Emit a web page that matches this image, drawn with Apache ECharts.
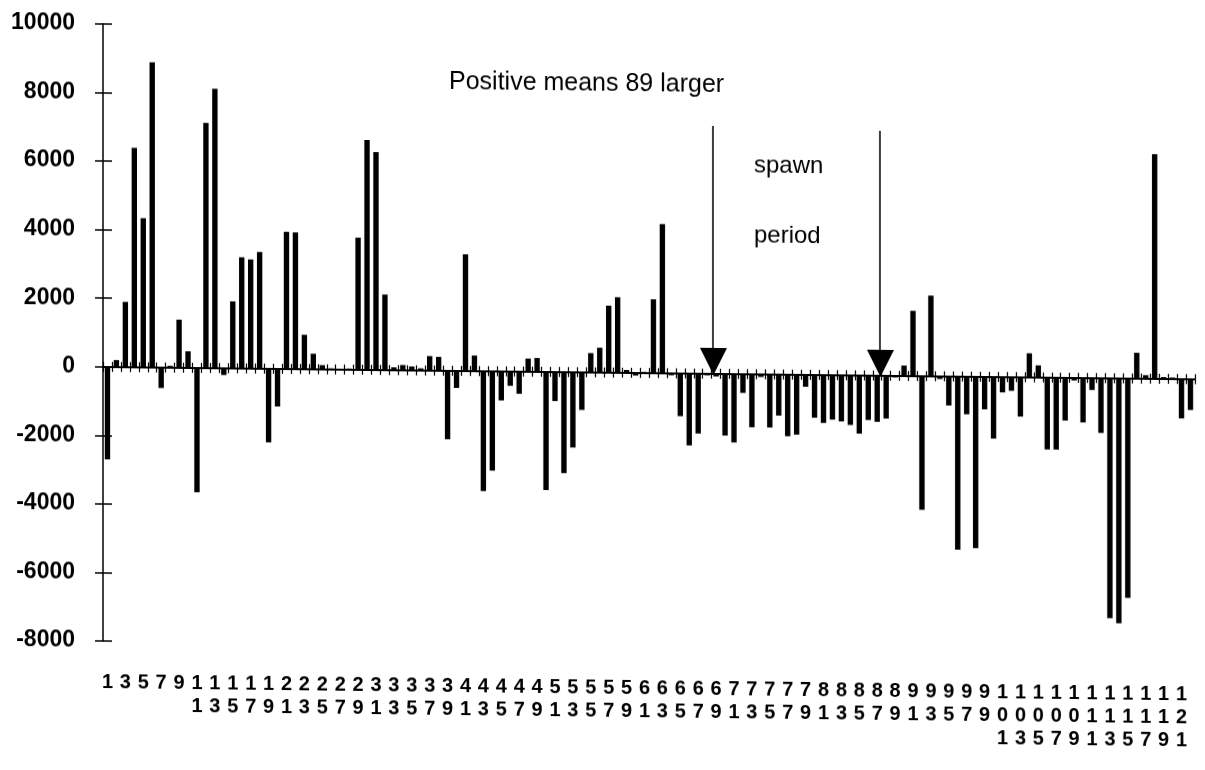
<!DOCTYPE html>
<html>
<head>
<meta charset="utf-8">
<script src="https://cdn.jsdelivr.net/npm/echarts@6/dist/echarts.min.js"></script>
<style>
  html, body { margin: 0; padding: 0; background: #fff; overflow: hidden; }
  /* the scanned original runs slightly downhill to the right */
  #chart { width: 1205px; height: 770px; transform: skewY(0.65deg); transform-origin: 103px 368px; }
</style>
</head>
<body>
<div id="chart"></div>
<script>
// sample number along the x axis (1 .. 122)
var samples = [
  1, 2, 3, 4, 5, 6, 7, 8, 9, 10, 11, 12, 13, 14, 15, 16, 17, 18, 19, 20,
  21, 22, 23, 24, 25, 26, 27, 28, 29, 30, 31, 32, 33, 34, 35, 36, 37, 38, 39, 40,
  41, 42, 43, 44, 45, 46, 47, 48, 49, 50, 51, 52, 53, 54, 55, 56, 57, 58, 59, 60,
  61, 62, 63, 64, 65, 66, 67, 68, 69, 70, 71, 72, 73, 74, 75, 76, 77, 78, 79, 80,
  81, 82, 83, 84, 85, 86, 87, 88, 89, 90, 91, 92, 93, 94, 95, 96, 97, 98, 99, 100,
  101, 102, 103, 104, 105, 106, 107, 108, 109, 110, 111, 112, 113, 114, 115, 116, 117, 118, 119, 120,
  121, 122
];

// difference (89 minus other year)
var diff1to30 = [
  -2700, 200, 1900, 6400, 4350, 8900, -600, 50, 1400, 480,
  -3630, 7150, 8150, -200, 1950, 3240, 3180, 3400, -2150, -1100,
  4000, 3980, 1000, 450, 120, 30, 20, 30, 3850, 6700
];
var diff31to60 = [
  6350, 2200, 80, 150, 110, 60, 420, 400, -2000, -500,
  3400, 450, -3500, -2900, -850, -420, -650, 380, 400, -3450,
  -850, -2950, -2200, -1100, 560, 720, 1950, 2200, 80, -80
];
var diff61to90 = [
  30, 2150, 4350, -60, -1250, -2100, -1750, -50, -80, -1800,
  -2000, -550, -1550, -80, -1550, -1200, -1800, -1750, -350, -1250,
  -1400, -1300, -1350, -1450, -1700, -1300, -1350, -1250, -50, 300
];
var diff91to122 = [
  1900, -3900, 2350, -80, -850, -5050, -1100, -5000, -950, -1800,
  -450, -400, -1150, 700, 350, -2100, -2100, -1250, -80, -1300,
  -350, -1600, -7000, -7150, -6400, 750, 100, 6550, 50, 40,
  -1150, -900
];
var diffs = diff1to30.concat(diff31to60, diff61to90, diff91to122);

var yMin = -8000, yMax = 10000, yStep = 2000;

var chart = echarts.init(document.getElementById('chart'));

var font = 'Liberation Sans, Arial, Helvetica, sans-serif';

var option = {
  backgroundColor: '#fff',
  animation: false,
  grid: { left: 103, right: 10, top: 24, bottom: 129, containLabel: false },
  xAxis: [
    {
      // axis line through zero, ticks hanging below
      type: 'category',
      data: samples,
      axisLine: { onZero: true, onZeroAxisIndex: 0, lineStyle: { color: '#000', width: 2 } },
      axisTick: { show: true, interval: 0, length: 5, lineStyle: { color: '#000', width: 1.2 } },
      axisLabel: { show: false },
      splitLine: { show: false }
    },
    {
      // same ticks pointing up
      type: 'category',
      data: samples,
      position: 'bottom',
      axisLine: { show: false, onZero: true, onZeroAxisIndex: 0 },
      axisTick: { show: true, inside: true, interval: 0, length: 5, lineStyle: { color: '#000', width: 1.2 } },
      axisLabel: { show: false },
      splitLine: { show: false }
    },
    {
      // labels at the foot of the chart, digits stacked
      type: 'category',
      data: samples,
      position: 'bottom',
      axisLine: { show: false, onZero: false },
      axisTick: { show: false },
      axisLabel: {
        interval: 1,
        margin: 30,
        color: '#000',
        fontSize: 20,
        fontWeight: 'bold',
        fontFamily: font,
        lineHeight: 23,
        verticalAlign: 'top',
        formatter: function (v) { return String(v).split('').join('\n'); }
      },
      splitLine: { show: false }
    }
  ],
  yAxis: [
    {
      type: 'value',
      position: 'left',
      min: yMin,
      max: yMax,
      interval: yStep,
      axisLine: { show: true, onZero: false, lineStyle: { color: '#000', width: 1.5 } },
      axisTick: { show: true, length: 8, lineStyle: { color: '#000', width: 1.5 } },
      axisLabel: {
        color: '#000', fontSize: 23, fontWeight: 'bold', fontFamily: font, margin: 28,
        formatter: function (v) { return String(v); }
      },
      splitLine: { show: false }
    },
    {
      type: 'value',
      position: 'left',
      min: yMin,
      max: yMax,
      interval: yStep,
      axisLine: { show: false, onZero: false },
      axisTick: { show: true, inside: true, length: 9, lineStyle: { color: '#000', width: 1.5 } },
      axisLabel: { show: false },
      splitLine: { show: false }
    }
  ],
  series: [
    {
      type: 'bar',
      xAxisIndex: 0,
      yAxisIndex: 0,
      data: diffs,
      barWidth: '60%',
      itemStyle: { color: '#000' }
    }
  ],
  graphic: [
    {
      type: 'text',
      style: { x: 449, y: 78, text: 'Positive means 89 larger', fill: '#000',
               font: '25px ' + font, verticalAlign: 'middle' }
    },
    {
      type: 'text',
      style: { x: 754, y: 158, text: 'spawn', fill: '#000',
               font: '24px ' + font, verticalAlign: 'middle' }
    },
    {
      type: 'text',
      style: { x: 754, y: 228, text: 'period', fill: '#000',
               font: '24px ' + font, verticalAlign: 'middle' }
    },
    // arrows marking the spawn period
    { type: 'line', shape: { x1: 713, y1: 119, x2: 713, y2: 342 }, style: { stroke: '#000', lineWidth: 1.5 } },
    { type: 'polygon', shape: { points: [[700, 341], [727, 341], [713.5, 368]] }, style: { fill: '#000' } },
    { type: 'line', shape: { x1: 880, y1: 122, x2: 880, y2: 342 }, style: { stroke: '#000', lineWidth: 1.5 } },
    { type: 'polygon', shape: { points: [[867, 341], [894, 341], [880.5, 368]] }, style: { fill: '#000' } }
  ]
};

chart.setOption(option);
</script>
</body>
</html>
